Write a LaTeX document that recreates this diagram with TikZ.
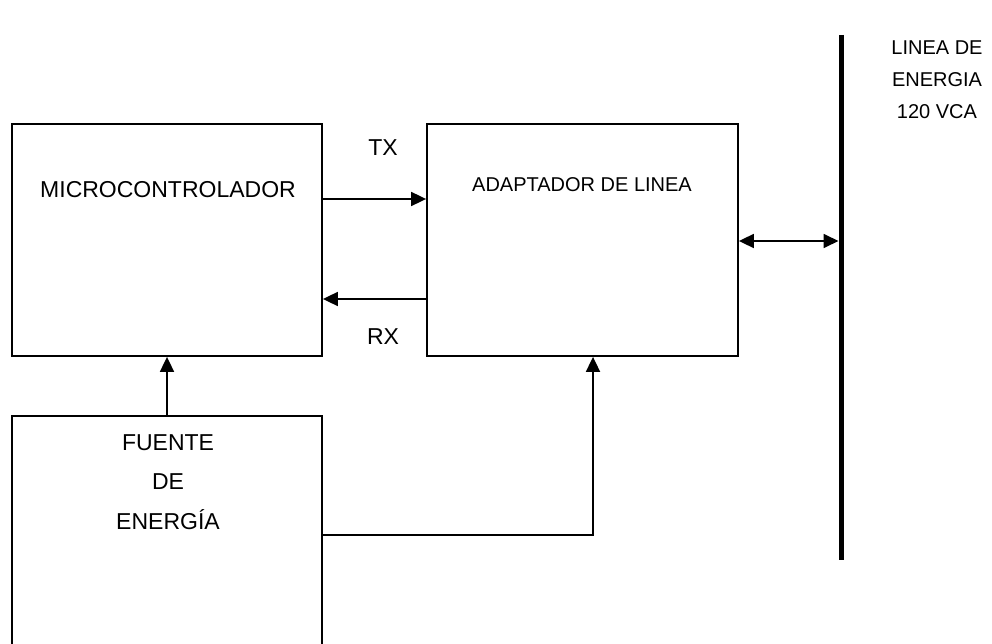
\documentclass[tikz,border=0pt]{standalone}
\usepackage{fontspec}
\setmainfont{Liberation Sans}
\usetikzlibrary{arrows.meta}
\begin{document}
\begin{tikzpicture}[x=1pt,y=-1pt,
  blk/.style={draw,line width=1.8pt,rectangle,inner sep=0pt},
  tip/.style={Triangle[length=15pt,width=14pt]},
  arr/.style={line width=1.8pt,-{Triangle[length=15pt,width=14pt]}},
  big/.style={font=\fontsize{23}{27}\selectfont,inner sep=0pt},
  sml/.style={font=\fontsize{20}{24}\selectfont,inner sep=0pt}]
\useasboundingbox (0,0) rectangle (992,644);
% boxes
\node[blk,minimum width=310pt,minimum height=232pt] (micro) at (167,240) {};
\node[blk,minimum width=311pt,minimum height=232pt] (adap) at (582.5,240) {};
\node[blk,minimum width=310pt,minimum height=250pt] (fuente) at (167,541) {};
% texts
\node[big] (tmicro) at (168,190) {MICROCONTROLADOR};
\node[sml] (tadap) at (582,185) {ADAPTADOR DE LINEA};
\node[big] (tf1) at (168,443) {FUENTE};
\node[big] (tf2) at (168,482) {DE};
\node[big] (tf3) at (168,520) {ENERGÍA};
\node[big] (ttx) at (383,148) {TX};
\node[big] (trx) at (383,337) {RX};
\node[sml] (tl1) at (937,48) {LINEA DE};
\node[sml] (tl2) at (937,80) {ENERGIA};
\node[sml] (tl3) at (937,112) {120 VCA};
% bus line
\coordinate (bustop) at (841,35);
\coordinate (busbot) at (841,560);
\draw[line width=5pt] (bustop) -- (busbot);
% connectors
\coordinate (tx) at (0,199);
\coordinate (rx) at (0,299);
\coordinate (busarr) at (838.5,241);
\coordinate (k) at (593,535);
\draw[arr] (micro.east |- tx) -- (adap.west |- tx);
\draw[arr] (adap.west |- rx) -- (micro.east |- rx);
\draw[line width=1.8pt,{Triangle[length=15pt,width=14pt]}-{Triangle[length=15pt,width=14pt]}] (adap.east |- busarr) -- (busarr);
\draw[arr] (fuente.north) -- (micro.south);
\draw[arr] (fuente.east |- k) -- (k) -- (adap.south -| k);
\end{tikzpicture}
\end{document}
